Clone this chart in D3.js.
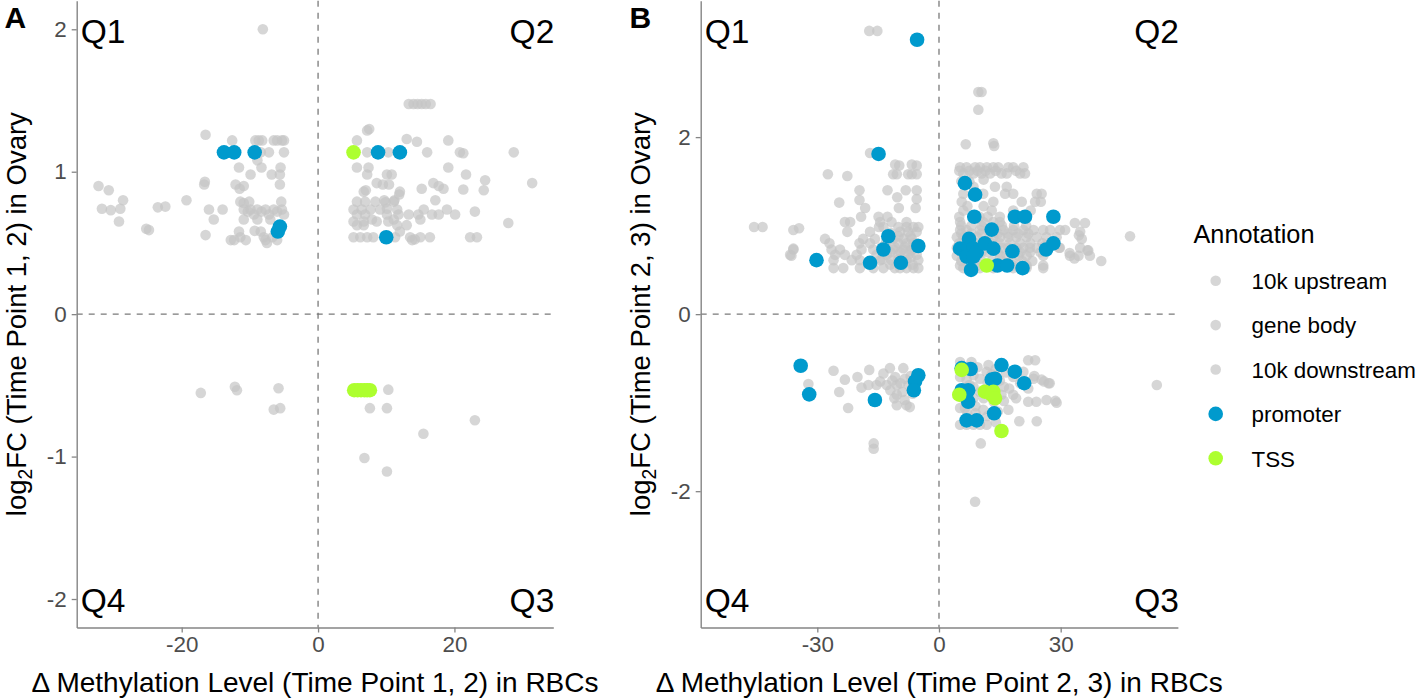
<!DOCTYPE html>
<html>
<head>
<meta charset="utf-8">
<script src="https://cdn.jsdelivr.net/npm/d3@7"></script>
<style>
  html, body { margin: 0; padding: 0; background: #ffffff; }
  svg { display: block; }
  text { font-family: "Liberation Sans", Arial, Helvetica, sans-serif; }
</style>
</head>
<body>
<svg id="chart" width="1418" height="700"></svg>
<script>
// ---------------- DATA ----------------
const annotationCategories = ["10k upstream", "gene body", "10k downstream", "promoter", "TSS"];
const annotationColors = ["#c4c4c4", "#c4c4c4", "#c4c4c4", "#009ACD", "#ADFF2F"];

const quadrantLabels = ["Q1", "Q2", "Q3", "Q4"];
const panelLetters = ["A", "B"];

const xTicksA = [-20, 0, 20];
const yTicksA = [-2, -1, 0, 1, 2];
const xTicksB = [-30, 0, 30];
const yTicksB = [-2, 0, 2];

const xTitleA = "\u0394 Methylation Level (Time Point 1, 2) in RBCs";
const yTitleA = ["log", "2", "FC (Time Point 1, 2) in Ovary"];
const xTitleB = "\u0394 Methylation Level (Time Point 2, 3) in RBCs";
const yTitleB = ["log", "2", "FC (Time Point 2, 3) in Ovary"];

// Panel A: [delta methylation, log2FC]
// gray = 10k upstream / gene body / 10k downstream (same colour)
const grayA = [
  [-8.1,2.0],[-16.5,1.26],
  [-12.6,1.22],[-9.2,1.22],[-8.7,1.22],[-8.2,1.22],[-6.5,1.22],[-6.0,1.22],[-5.3,1.22],[-5.0,1.22],
  [-8.4,1.136],[-7.2,1.136],[-5.0,1.136],[-8.9,1.08],
  [-11.6,1.03],[-8.3,1.03],[-5.5,1.03],
  [-9.9,0.98],[-6.8,0.98],[-5.6,0.98],
  [-16.7,0.91],[-12.1,0.91],[-10.9,0.90],[-5.6,0.91],[-11.5,0.88],
  [-11.4,0.79],[-10.9,0.78],[-10.1,0.79],[-5.4,0.79],
  [-16.0,0.735],[-14.0,0.735],[-10.9,0.735],[-9.9,0.735],[-8.9,0.735],[-7.7,0.735],[-6.5,0.735],[-5.3,0.735],
  [-10.3,0.72],[-8.3,0.72],[-6.0,0.72],[-9.4,0.70],[-7.2,0.70],[-5.0,0.70],
  [-15.3,0.665],[-10.9,0.665],[-8.9,0.665],[-7.0,0.665],
  [-11.6,0.58],[-9.3,0.585],[-8.4,0.58],
  [-16.5,0.555],[-11.4,0.54],[-7.95,0.54],[-6.7,0.54],
  [-12.8,0.52],[-12.3,0.52],[-10.6,0.52],[-7.7,0.52],[-6.0,0.52],[-7.5,0.50],
  [-32.2,0.90],[-30.7,0.87],[-28.6,0.80],[-31.7,0.74],[-30.4,0.73],[-29.0,0.74],[-29.2,0.65],
  [-23.5,0.75],[-22.4,0.755],[-19.3,0.80],[-16.6,0.93],[-25.2,0.60],[-24.8,0.59],
  [13.3,1.475],[14.0,1.475],[14.6,1.475],[15.2,1.475],[15.8,1.475],[16.5,1.475],
  [7.2,1.29],[7.5,1.30],
  [5.7,1.22],[13.0,1.23],[14.5,1.21],[19.1,1.22],
  [7.2,1.136],[10.3,1.136],[16.0,1.136],[20.8,1.136],[21.3,1.13],[28.7,1.136],
  [5.7,1.03],[7.4,1.03],[19.1,1.03],
  [7.2,0.98],[10.1,0.98],[10.8,0.98],[21.7,0.98],
  [8.6,0.92],[9.5,0.91],[10.4,0.91],[16.9,0.92],[17.7,0.90],[31.4,0.92],[24.5,0.94],
  [15.2,0.88],[18.4,0.88],[21.3,0.875],[24.3,0.87],[7.0,0.87],[6.7,0.86],[12.0,0.86],[11.9,0.84],
  [17.2,0.80],[9.7,0.80],[11.2,0.80],
  [5.7,0.79],[6.9,0.79],[8.4,0.79],[9.9,0.785],[11.1,0.79],
  [5.2,0.735],[6.4,0.735],[7.7,0.735],[9.1,0.735],[10.1,0.74],[11.6,0.735],[15.5,0.735],[18.9,0.735],[23.0,0.72],
  [5.7,0.70],[6.9,0.70],[10.1,0.70],[11.8,0.70],[13.3,0.70],[14.7,0.70],[16.7,0.70],[17.7,0.70],[20.1,0.70],
  [7.9,0.665],[11.1,0.665],[15.0,0.665],
  [5.2,0.65],[6.7,0.65],[8.6,0.65],[10.3,0.65],
  [5.7,0.625],[6.7,0.625],[11.6,0.625],[13.0,0.625],[27.9,0.64],[12.0,0.58],
  [5.2,0.54],[6.2,0.54],[7.2,0.54],[8.1,0.54],[11.3,0.54],[13.5,0.54],[15.0,0.54],[16.4,0.54],[22.3,0.54],[23.3,0.54],
  [13.8,0.52],[14.2,0.525],
  [-17.2,-0.553],[-12.2,-0.51],[-11.9,-0.534],[-5.8,-0.52],[-6.5,-0.67],[-5.55,-0.66],
  [10.3,-0.53],[7.6,-0.66],[10.1,-0.66],[23.0,-0.745],[15.45,-0.84],[6.8,-1.01],[10.1,-1.105]
];
const promoterA = [
  [-13.8,1.136],[-12.3,1.136],[-9.3,1.136],[8.8,1.136],[12.0,1.136],
  [-5.6,0.615],[-5.9,0.58],[10.0,0.54]
];
const tssA = [
  [5.2,1.136],
  [5.3,-0.534],[5.8,-0.534],[6.3,-0.534],[6.8,-0.534],[7.2,-0.534],[7.6,-0.534]
];

// Panel B
const grayB = [
  // Q1
  [-17.2,3.2],[-15.2,3.2],[-17.0,1.82],
  [-10.8,1.69],[-9.8,1.68],[-6.7,1.69],[-5.5,1.68],
  [-27.4,1.58],[-22.6,1.56],[-11.3,1.58],[-10.4,1.58],[-7.6,1.58],[-6.7,1.58],[-5.5,1.58],
  [-19.6,1.40],[-12.7,1.40],[-8.2,1.40],[-5.5,1.40],
  [-19.6,1.29],[-10.3,1.32],[-5.5,1.30],[-24.6,1.26],
  [-18.2,1.2],[-9.9,1.2],[-5.75,1.2],
  [-19.2,1.10],[-14.9,1.10],[-12.7,1.10],
  [-23.2,1.04],[-21.9,1.04],[-14.5,1.04],[-11.7,1.04],[-8.0,1.04],
  [-45.6,0.985],[-43.5,0.985],[-35.9,0.95],[-34.5,0.97],[-14.8,0.985],[-13.7,0.985],[-10,0.985],[-8,0.985],[-6.3,0.985],[-5.1,0.985],
  [-22.6,0.93],[-17,0.93],[-9.6,0.93],[-7.6,0.93],[-5.5,0.93],
  [-28.1,0.85],[-18.7,0.85],[-15.8,0.85],[-11.3,0.85],[-8.8,0.85],[-6.7,0.85],
  [-27.0,0.80],[-19.6,0.80],[-17,0.80],[-10,0.80],[-8,0.80],[-6.3,0.80],[-5.5,0.80],
  [-35.9,0.73],[-26.5,0.73],[-24.4,0.73],[-19.1,0.73],[-16.2,0.73],[-11.3,0.73],[-8.8,0.73],[-6.7,0.73],
  [-36.7,0.67],[-25.6,0.67],[-23.2,0.67],[-20.3,0.67],[-15.4,0.67],[-12.9,0.67],[-10,0.67],[-7.6,0.67],[-5.5,0.67],
  [-26.0,0.61],[-21.5,0.61],[-19.5,0.61],[-14.5,0.61],[-11.7,0.61],[-8.0,0.61],[-5.1,0.61],
  [-26.0,0.52],[-23.6,0.52],[-19.5,0.52],[-16.2,0.52],[-13.7,0.52],[-10.9,0.52],[-9.6,0.52],[-8.0,0.52],[-6.3,0.52],[-5.1,0.52],
  [-12,0.56],[-9,0.56],[-6.5,0.56],[-14,0.62],[-10,0.62],[-7,0.64],[-12,0.70],[-9.5,0.70],[-7,0.72],
  [-14,0.76],[-11,0.76],[-8.5,0.76],[-6,0.75],[-13,0.82],[-10,0.88],[-7,0.88],[-12,0.92],
  [-36.4,0.66],[-35.9,0.74],
  // Q2
  [9.7,2.51],[10.5,2.51],[9.7,2.31],[6.6,1.92],[13.4,1.93],[13.6,1.90],
  [5.2,1.66],[6.8,1.66],[8.9,1.66],[10.1,1.66],[11.8,1.66],[13.4,1.66],[14.6,1.66],[17.1,1.66],[18.3,1.66],[20.8,1.66],
  [6,1.59],[8.5,1.59],[10.5,1.59],[12.6,1.59],[15.4,1.59],[16.7,1.59],[20,1.59],[21.2,1.59],
  [5,1.62],[7.5,1.62],[9.5,1.62],[11.5,1.62],[14,1.62],[19,1.62],
  [5.5,1.50],[7.5,1.50],[11,1.52],
  [8.5,1.44],[13.8,1.44],[16.7,1.44],
  [6.0,1.36],[10.9,1.36],[16.3,1.36],[18.3,1.36],[24.1,1.36],[25.3,1.36],
  [5.6,1.27],[13.4,1.27],[20.4,1.27],[23.7,1.27],[25.1,1.27],
  [7,1.22],[11,1.22],
  [6.0,1.17],[13.0,1.17],[18.3,1.17],[22.6,1.17],
  [5,1.10],[10,1.10],[12,1.10],[15,1.10],
  [5.2,1.04],[10.9,1.04],[13.4,1.04],[15.0,1.04],[33.5,1.03],[36,1.03],
  [5.5,1.00],[8,1.00],[10.5,1.00],[15.5,1.00],[18.5,1.00],[21.5,1.00],
  [5.2,0.95],[6.8,0.95],[10.1,0.95],[15.9,0.95],[18.3,0.95],[20.8,0.95],[23.3,0.95],[25.7,0.95],[27.4,0.95],[29.8,0.95],[31.1,0.95],[34.8,0.93],
  [34.5,0.89],[47.1,0.88],[40.0,0.60],[36.6,0.72],[32.2,0.69],[33.4,0.63],[29.6,0.75],
  [5.5,0.91],[8,0.91],[10.5,0.91],[12.5,0.91],[14.5,0.91],[17,0.91],[19.5,0.91],[22,0.91],
  [4.4,0.87],[6.0,0.87],[9.3,0.87],[13.4,0.87],[15.0,0.87],[17.1,0.87],[19.1,0.87],[21.6,0.87],[24.1,0.87],[26.5,0.87],[29.0,0.87],[35.2,0.85],
  [5,0.80],[7,0.80],[9,0.80],[13,0.80],[15,0.80],[17.5,0.80],[20,0.80],[22.5,0.80],[25.5,0.80],
  [4.4,0.75],[10.1,0.75],[13.4,0.77],[15.4,0.75],[17.1,0.75],[19.1,0.75],[20.8,0.75],[22.4,0.75],[24.1,0.75],[26.1,0.77],[29.8,0.75],[34.8,0.75],[36.8,0.72],
  [5.5,0.70],[7.5,0.70],[10.5,0.70],[12,0.70],[14.5,0.70],[17.5,0.70],[20,0.70],[22.5,0.70],[25,0.70],
  [4.4,0.66],[9.3,0.66],[15.0,0.66],[16.7,0.66],[19.6,0.66],[21.6,0.66],[25.7,0.66],[32.3,0.66],[34.4,0.66],[37.2,0.66],
  [5.5,0.60],[8,0.60],[10.5,0.60],[13,0.60],[15.5,0.60],[18,0.60],[20.5,0.60],[23,0.60],
  [5.2,0.55],[9.3,0.55],[11.8,0.55],[18.3,0.55],[21.6,0.55],[25.7,0.55],
  [6.0,0.52],[10.1,0.52],[13.4,0.52],[18.3,0.52],[21.6,0.52],[25.7,0.52],
  // Q4
  [-32.2,-0.79],[-26,-0.64],[-23.2,-0.74],[-24.6,-0.88],[-22.4,-1.06],[-20.1,-0.71],[-19.1,-0.83],
  [-17.2,-0.63],[-17.4,-0.80],[-15.4,-0.80],[-14.5,-0.76],[-13.7,-0.67],[-12.1,-0.61],[-12.9,-0.80],
  [-10.8,-0.71],[-10.4,-0.80],[-10.4,-0.91],[-10.4,-1.03],[-8.8,-0.61],[-8.4,-0.73],[-8,-1.03],[-7.2,-1.05],
  [-16.1,-1.46],[-16.1,-1.52],
  [-11.5,-0.75],[-9.5,-0.78],[-7.5,-0.80],[-12,-0.86],[-9,-0.88],[-7,-0.70],[-6.5,-0.90],[-11,-0.95],[-8.5,-0.97],
  // Q3
  [5.2,-0.54],[8.0,-0.54],[12.2,-0.575],[22,-0.52],[23.7,-0.52],
  [5.2,-0.71],[6.8,-0.74],[8.5,-0.69],[10.1,-0.73],[11.75,-0.65],[18.3,-0.71],[20.8,-0.65],
  [23.3,-0.73],[25.3,-0.74],[27,-0.78],[5.2,-0.84],[8.5,-0.82],[10.1,-0.88],[17.3,-0.84],[18.3,-0.91],[15.4,-0.91],
  [22,-0.99],[24,-0.99],[26.5,-0.97],[29,-1.0],[5.2,-1.06],[6.4,-1.06],[10.9,-1.08],[17.1,-1.08],
  [19.8,-1.21],[24.1,-1.21],[5.2,-1.25],[6.8,-1.25],[8.5,-1.25],[10.1,-1.25],[11.75,-1.25],
  [10.3,-1.46],[8.9,-2.12],[53.7,-0.80],[23.5,-0.70],[25.9,-0.76],[27.3,-0.78],[28.7,-0.98],
  [7,-0.60],[9.5,-0.60],[14,-0.62],[16.5,-0.66],[13,-0.68],[15,-0.75],[12,-0.78],[7.5,-0.80],[13.5,-0.82],[16,-0.82],
  [6,-0.95],[8.5,-0.95],[11,-0.95],[13.5,-0.99],[16,-0.98],[7,-1.12],[9,-1.12],[12,-1.15],[14.5,-1.10],[9,-1.04],
  [20,-0.78],[22,-0.84],[19,-0.95],[14,-1.22]
];
const promoterB = [
  [-5.4,3.1],[-14.9,1.81],[-12.5,0.88],[-13.7,0.73],[-5.1,0.77],[-30.2,0.61],[-17,0.58],[-9.4,0.58],
  [6.4,1.48],[8.9,1.35],[8.7,1.10],[18.7,1.10],[21.2,1.10],[28.2,1.10],[13,0.955],[7.4,0.85],
  [5.2,0.74],[7.2,0.74],[8.5,0.74],[9.3,0.70],[11.3,0.80],[13.4,0.74],[6.8,0.65],[8.5,0.65],
  [18.1,0.71],[26.4,0.73],[28.2,0.80],[7.9,0.50],[14.4,0.55],[16.8,0.55],[20.6,0.52],
  [-34.1,-0.583],[-32,-0.906],[-15.8,-0.97],[-5.1,-0.69],[-5.9,-0.76],[-6.2,-0.86],
  [5.6,-0.61],[7.8,-0.62],[15.4,-0.575],[18.7,-0.65],[13.8,-0.73],[13,-0.74],[21,-0.78],
  [5.6,-0.86],[7.2,-0.86],[7.2,-0.99],[13.6,-1.12],[6.8,-1.2],[9.3,-1.2]
];
const tssB = [
  [11.75,0.55],
  [5.6,-0.63],[5.0,-0.91],[11.3,-0.876],[13.4,-0.876],[13.0,-0.91],[13.8,-0.95],[15.4,-1.32]
];

// ---------------- DRAWING ----------------
const svg = d3.select("#chart");
svg.append("rect").attr("width", 1418).attr("height", 700).attr("fill", "#ffffff");

const axisColor = "#858585";
const tickTextColor = "#4d4d4d";
const grayR = 5.3, colR = 7.3;

function drawPanel(cfg) {
  const x = d3.scaleLinear().domain(cfg.xDomain).range([cfg.left, cfg.right]);
  const y = d3.scaleLinear().domain(cfg.yDomain).range([cfg.bottom, cfg.top]);
  const g = svg.append("g");

  // reference dashed lines
  g.append("line")
    .attr("x1", cfg.left).attr("x2", cfg.right)
    .attr("y1", y(0)).attr("y2", y(0))
    .attr("stroke", "#7a7a7a").attr("stroke-width", 1.3).attr("stroke-dasharray", "6,6");
  g.append("line")
    .attr("x1", x(0)).attr("x2", x(0))
    .attr("y1", cfg.top).attr("y2", cfg.bottom)
    .attr("stroke", "#7a7a7a").attr("stroke-width", 1.3).attr("stroke-dasharray", "6,6");

  // points
  g.append("g").selectAll("circle").data(cfg.gray).join("circle")
    .attr("cx", d => x(d[0])).attr("cy", d => y(d[1])).attr("r", grayR)
    .attr("fill", annotationColors[0]).attr("fill-opacity", 0.7);
  g.append("g").selectAll("circle").data(cfg.promoter).join("circle")
    .attr("cx", d => x(d[0])).attr("cy", d => y(d[1])).attr("r", colR)
    .attr("fill", annotationColors[3]);
  g.append("g").selectAll("circle").data(cfg.tss).join("circle")
    .attr("cx", d => x(d[0])).attr("cy", d => y(d[1])).attr("r", colR)
    .attr("fill", annotationColors[4]);

  // axes
  const xAxis = g.append("g").attr("transform", `translate(0,${cfg.bottom})`)
    .call(d3.axisBottom(x).tickValues(cfg.xTicks).tickSize(5).tickSizeOuter(0).tickPadding(4).tickFormat(d3.format("d")));
  const yAxis = g.append("g").attr("transform", `translate(${cfg.left},0)`)
    .call(d3.axisLeft(y).tickValues(cfg.yTicks).tickSize(5).tickSizeOuter(0).tickPadding(5).tickFormat(d3.format("d")));
  [xAxis, yAxis].forEach(a => {
    a.select(".domain").attr("stroke", axisColor).attr("stroke-width", 1.4);
    a.selectAll(".tick line").attr("stroke", axisColor).attr("stroke-width", 1.3);
    a.selectAll(".tick text").attr("fill", tickTextColor)
      .style("font-size", "22.4px").style("font-family", '"Liberation Sans", Arial, sans-serif');
  });
  // plain hyphen-minus labels like the reference
  yAxis.selectAll(".tick text").text(d => String(d));
  xAxis.selectAll(".tick text").text(d => String(d));

  // quadrant labels
  const qFont = "33.5px";
  g.append("text").attr("x", cfg.left + 4).attr("y", cfg.top + 42.5).text(quadrantLabels[0])
    .style("font-size", qFont).attr("fill", "#000");
  g.append("text").attr("x", cfg.right + 1).attr("y", cfg.top + 42.5).attr("text-anchor", "end").text(quadrantLabels[1])
    .style("font-size", qFont).attr("fill", "#000");
  g.append("text").attr("x", cfg.right + 1).attr("y", cfg.bottom - 16).attr("text-anchor", "end").text(quadrantLabels[2])
    .style("font-size", qFont).attr("fill", "#000");
  g.append("text").attr("x", cfg.left + 4).attr("y", cfg.bottom - 16).text(quadrantLabels[3])
    .style("font-size", qFont).attr("fill", "#000");

  // x title
  g.append("text").attr("x", (cfg.left + cfg.right) / 2).attr("y", 691.5)
    .attr("text-anchor", "middle").style("font-size", "28px").attr("fill", "#000")
    .text(cfg.xTitle);
  // y title with subscript
  const yt = g.append("text")
    .attr("transform", `translate(${cfg.left - 50.5},${(cfg.top + cfg.bottom) / 2}) rotate(-90)`)
    .attr("text-anchor", "middle").style("font-size", "27.5px").attr("fill", "#000");
  yt.append("tspan").text(cfg.yTitle[0]);
  yt.append("tspan").attr("dy", 6).style("font-size", "19.3px").text(cfg.yTitle[1]);
  yt.append("tspan").attr("dy", -6).text(cfg.yTitle[2]);

  // panel letter
  svg.append("text").attr("x", cfg.letterX).attr("y", 28.3)
    .style("font-size", "30px").style("font-weight", "bold").attr("fill", "#000")
    .text(cfg.letter);
}

drawPanel({
  left: 76.7, right: 553.3, top: 0.8, bottom: 627.5,
  xDomain: [-35.4, 34.5], yDomain: [-2.2, 2.2],
  xTicks: xTicksA, yTicks: yTicksA,
  gray: grayA, promoter: promoterA, tss: tssA,
  xTitle: xTitleA, yTitle: yTitleA, letter: panelLetters[0], letterX: 4.5
});
drawPanel({
  left: 700.7, right: 1177.9, top: 0.8, bottom: 627.5,
  xDomain: [-58.75, 58.9], yDomain: [-3.54, 3.54],
  xTicks: xTicksB, yTicks: yTicksB,
  gray: grayB, promoter: promoterB, tss: tssB,
  xTitle: xTitleB, yTitle: yTitleB, letter: panelLetters[1], letterX: 629.5
});

// ---------------- LEGEND ----------------
const leg = svg.append("g");
leg.append("text").attr("x", 1193.5).attr("y", 243.3).style("font-size", "25.3px").attr("fill", "#000")
  .text("Annotation");
const legY = d3.scalePoint().domain(annotationCategories).range([280.7, 458.3]);
annotationCategories.forEach((c, i) => {
  const isGray = i < 3;
  leg.append("circle").attr("cx", 1215.7).attr("cy", legY(c))
    .attr("r", isGray ? grayR : colR)
    .attr("fill", annotationColors[i]).attr("fill-opacity", isGray ? 0.7 : 1);
  leg.append("text").attr("x", 1251.5).attr("y", legY(c) + 8.3)
    .style("font-size", "22.4px").attr("fill", "#000").text(c);
});
</script>
</body>
</html>
